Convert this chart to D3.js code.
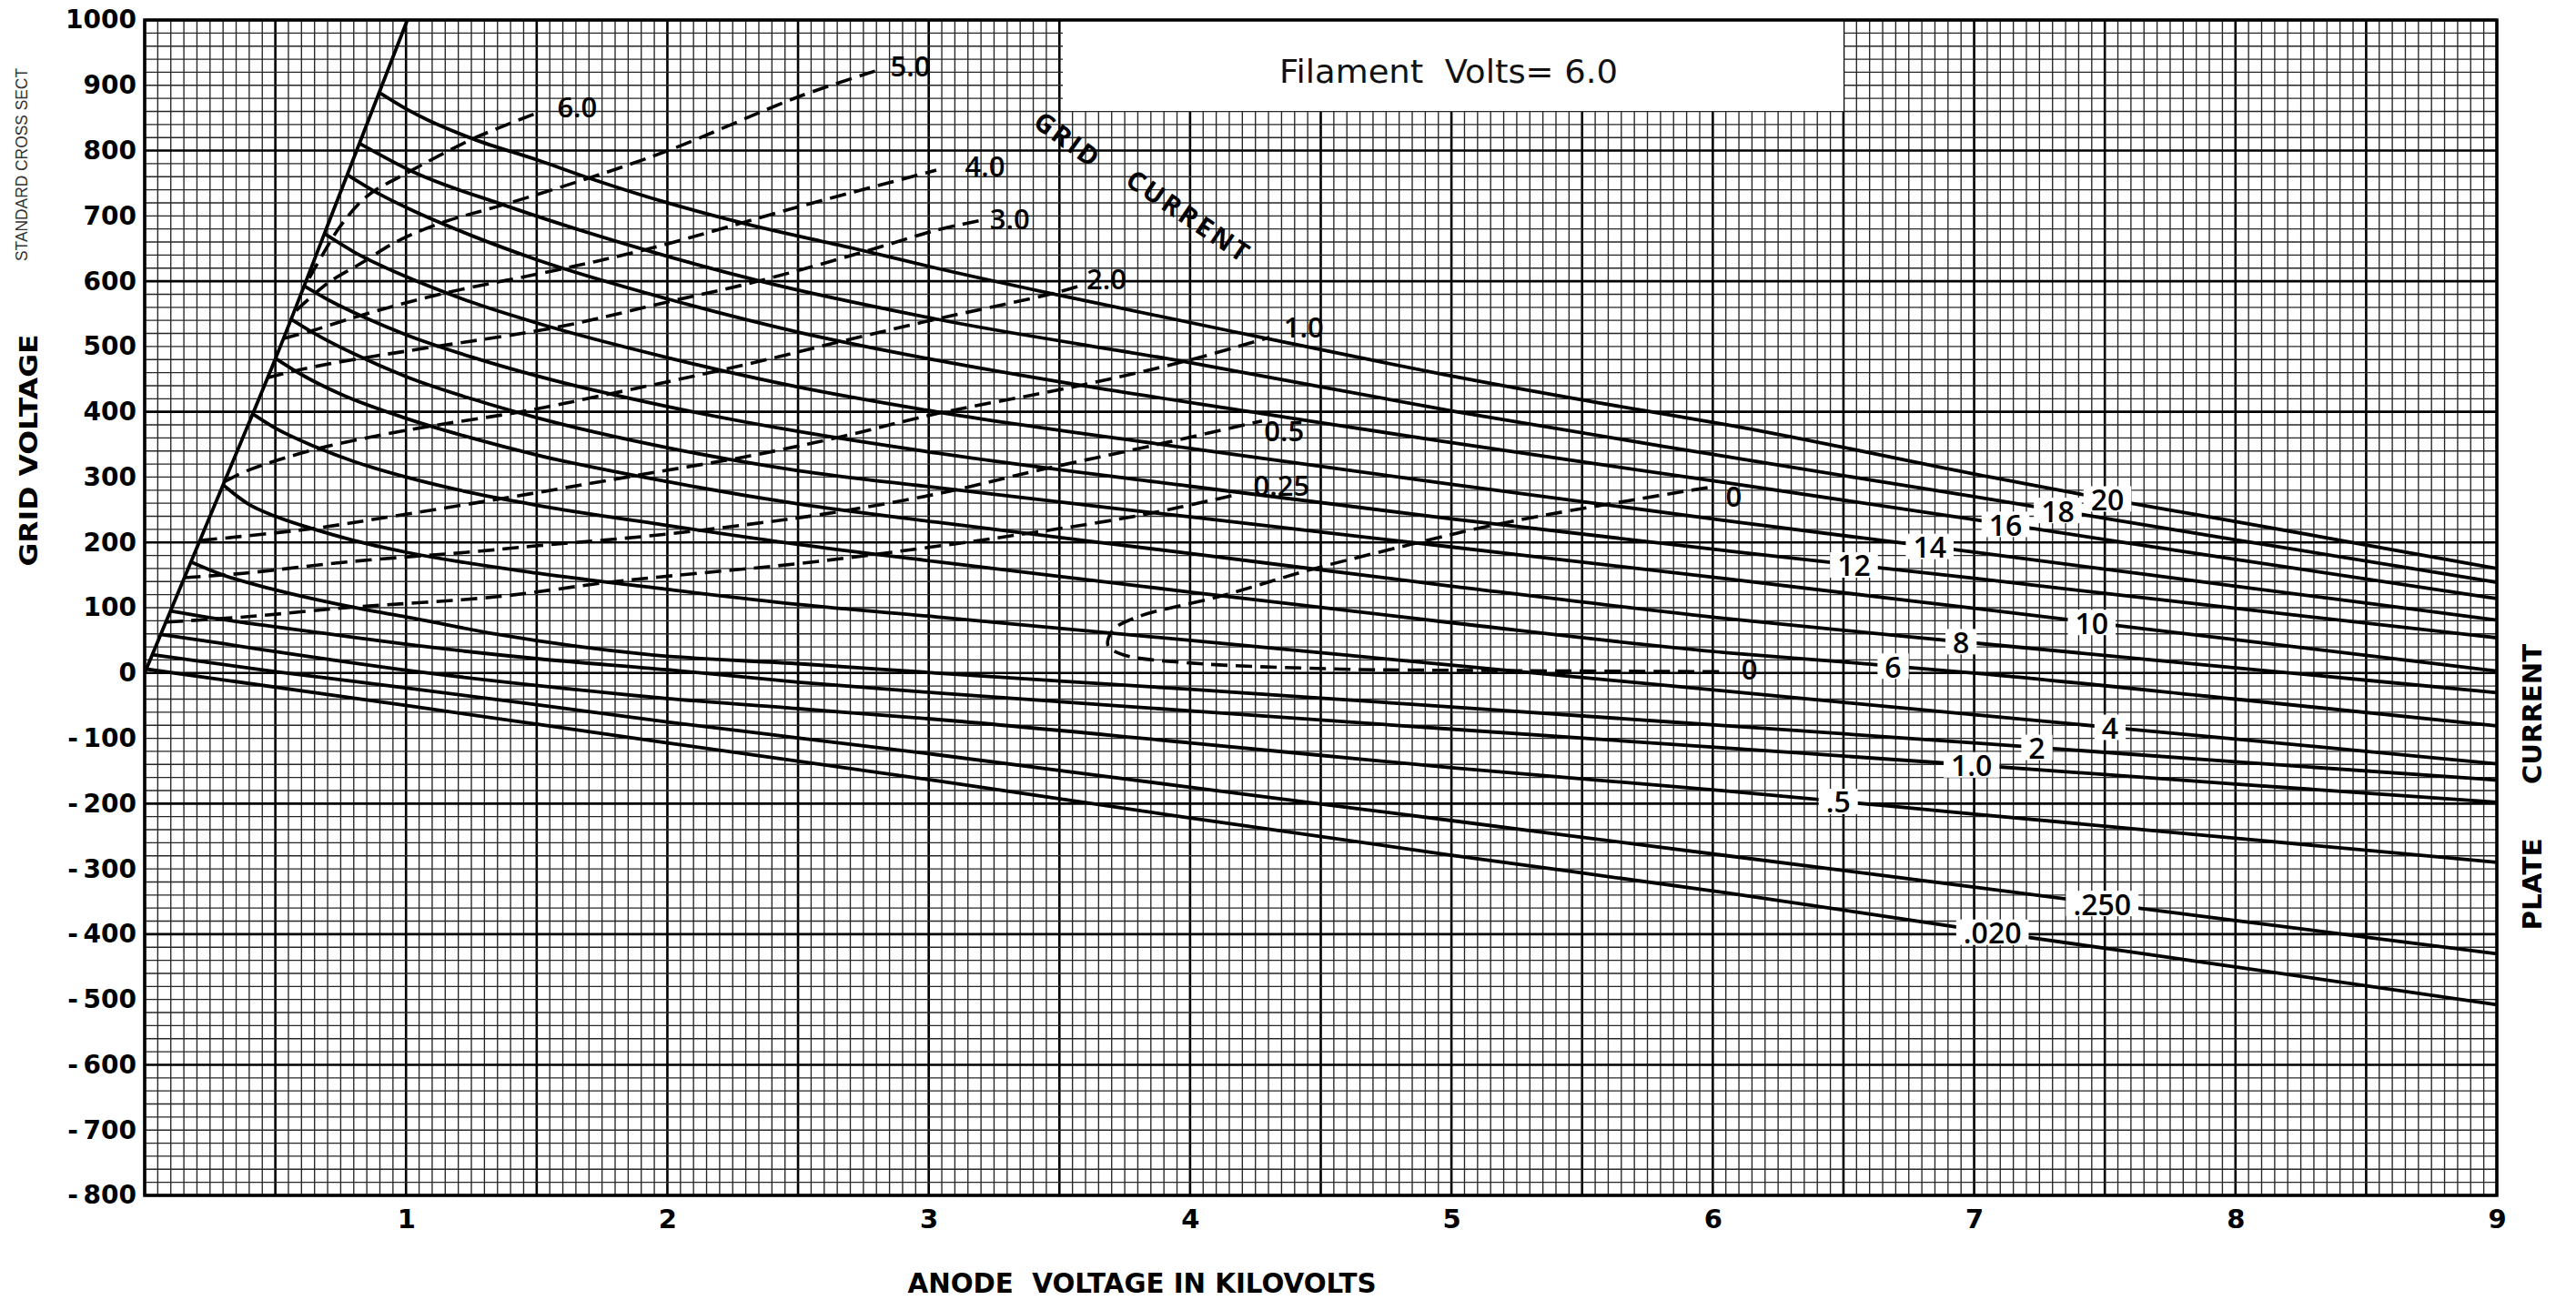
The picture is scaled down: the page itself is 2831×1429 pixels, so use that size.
<!DOCTYPE html>
<html>
<head>
<meta charset="utf-8">
<script src="https://cdn.jsdelivr.net/npm/d3@7"></script>
<style>
  html, body { margin: 0; padding: 0; background: #fff; }
  svg { display: block; }
  text { white-space: pre; }
</style>
</head>
<body>
<script>
// ---------------- DATA ----------------
const xTickValues = [1, 2, 3, 4, 5, 6, 7, 8, 9];
const yTickValues = [1000, 900, 800, 700, 600, 500, 400, 300, 200, 100, 0, -100, -200, -300, -400, -500, -600, -700, -800];

// Boundary (limit) line, [kV, V]
const boundary = [[0, 0], [0.3, 288], [0.5, 481], [0.75, 737], [1.005, 1000]];

// Plate-current curves (solid), [kV, grid V]
const pc20 = [[0.897,889],[1.0,864],[1.082,847],[1.256,818],[1.507,785],[1.70,758],[2.009,719],[2.318,686],[2.705,651],[3.029,620],[3.493,579],[4.285,513],[4.961,458],[5.734,402],[6.058,380],[7.024,303],[7.584,261],[7.874,241],[8.5,196],[9.0,160]];
const pc18 = [[0.822,811],[1.024,768],[1.372,717],[1.932,646],[2.357,600],[3.029,542],[3.976,477],[5.019,400],[6.058,331],[7.0,270],[8.0,204],[9.0,139]];
const pc16 = [[0.775,763],[0.9,733],[1.0,713],[1.25,670],[1.5,633],[2.0,573],[2.5,522],[3.029,479],[3.589,440],[4.265,398],[4.961,355],[6.058,291],[7.0,235],[8.0,174],[9.0,114]];
const pc14 = [[0.687,673],[0.8,645],[1.0,607],[1.25,568],[1.5,536],[2.0,483],[2.5,438],[3.029,400],[4.0,344],[5.0,289],[6.058,233],[7.0,185],[8.0,133],[9.0,81]];
const pc12 = [[0.609,593],[0.7,572],[0.85,543],[1.0,518],[1.25,484],[1.5,455],[2.0,408],[2.5,370],[3.029,337],[4.0,286],[5.0,236],[6.058,187],[7.0,145],[8.0,99],[9.0,54]];
const pc10 = [[0.56,542],[0.65,520],[0.8,489],[1.0,454],[1.25,420],[1.5,391],[2.0,345],[2.5,310],[3.029,284],[4.0,239],[5.0,193],[6.058,144],[7.0,99],[8.0,51],[9.0,3]];
const pc8  = [[0.5,482],[0.6,457],[0.75,427],[1.0,390],[1.25,360],[1.5,334],[2.0,293],[2.5,259],[3.029,231],[4.0,183],[5.0,133],[6.058,83],[7.0,46],[8.0,8],[9.0,-30]];
const pc6  = [[0.413,397],[0.5,375],[0.65,347],[0.8,324],[1.0,300],[1.25,276],[1.5,257],[2.0,226],[2.5,197],[3.029,170.5],[4.0,124],[5.0,77],[6.058,31],[6.5,17],[7.0,0],[8.0,-40],[9.0,-81]];
const pc4  = [[0.3,288],[0.4,258],[0.5,240],[0.65,220],[0.8,203],[1.0,185],[1.5,153],[2.0,128],[2.5,105],[3.029,86],[4.0,50],[5.0,12],[6.058,-28],[7.0,-64],[8.0,-101],[9.0,-139]];
const pc2  = [[0.177,170],[0.3,150],[0.483,129],[0.65,113],[0.831,98],[1.0,86],[1.352,59],[1.932,28],[2.512,14],[3.029,0],[4.0,-25],[5.0,-52],[6.058,-81],[7.0,-107],[8.0,-136],[9.0,-164]];
const pc1  = [[0.099,95],[0.2,88],[0.4,76],[0.7,60],[1.0,44],[1.5,22],[2.0,5],[2.5,-14],[3.029,-30.5],[4.0,-58],[5.0,-86],[6.058,-115],[7.0,-141],[8.0,-170],[9.0,-198]];
const pc05 = [[0.061,59],[0.3,45],[0.58,28],[1.005,4],[1.546,-21],[2.0,-39],[2.512,-55],[3.029,-71],[4.0,-107],[5.0,-145],[6.058,-181],[7.0,-216],[8.0,-253],[9.0,-290]];
const pc025= [[0.029,28],[0.502,2],[1.005,-23],[1.507,-49],[2.0,-75],[2.512,-100],[3.029,-125],[4.0,-175],[5.0,-226],[6.058,-280],[7.0,-328],[8.0,-379],[9.0,-430]];
const pc002= [[0.006,6],[1.005,-50],[2.0,-107],[3.029,-165],[4.0,-222],[5.0,-279],[6.058,-337],[7.0,-393],[8.0,-450],[9.0,-508]];

const plateCurves  = [pc20, pc18, pc16, pc14, pc12, pc10, pc8, pc6, pc4, pc2, pc1, pc05, pc025, pc002];
const plateLabels  = ["20", "18", "16", "14", "12", "10", "8", "6", "4", "2", "1.0", ".5", ".250", ".020"];
const plateLabelKV = [7.51, 7.32, 7.12, 6.83, 6.54, 7.45, 6.95, 6.69, 7.52, 7.24, 6.99, 6.48, 7.49, 7.07];

// Grid-current curves (dashed), [kV, grid V]
const gc60 = [[0.63,605],[0.68,640],[0.75,685],[0.85,730],[1.0,765],[1.256,818],[1.49,856]];
const gc50 = [[0.58,555],[0.7,597],[0.83,628],[0.966,661],[1.14,690],[1.372,717],[1.70,758],[2.009,801],[2.512,884],[2.82,925]];
const gc40 = [[0.53,512],[0.647,525],[0.831,548],[1.14,581],[1.575,617],[1.932,650],[2.512,715],[3.029,770]];
const gc30 = [[0.47,452],[0.6,465],[0.8,480],[1.082,498],[1.584,530],[2.009,569],[2.347,600],[2.743,644],[3.029,678],[3.22,695]];
const gc20 = [[0.305,293],[0.406,312],[0.667,344],[1.005,372],[1.468,402],[1.739,424],[2.241,467],[2.647,506],[3.029,542],[3.473,581],[3.57,592]];
const gc10 = [[0.215,203],[0.638,221],[0.966,241],[1.468,274],[1.874,302],[2.309,332],[2.666,362],[3.029,397],[3.551,438],[3.976,477],[4.304,514]];
const gc05 = [[0.152,146],[0.386,153],[0.773,170],[1.236,185],[1.507,195],[1.932,210],[2.318,228],[2.608,244],[3.029,274],[3.415,310],[3.898,352],[4.275,386]];
const gc025= [[0.085,78],[0.386,86],[0.773,100],[1.352,117],[1.777,139],[2.125,153],[2.512,168],[3.029,194],[3.415,216],[3.802,241],[4.188,274]];
const gc0  = [[5.98,284],[5.65,262],[5.347,241],[5.096,221],[4.845,197],[4.459,158],[4.111,117],[3.8,86],[3.705,66],[3.686,42],[3.744,28],[3.995,15.5],[4.575,6],[5.038,4],[6.05,2]];

const gridCurves = [gc60, gc50, gc40, gc30, gc20, gc10, gc05, gc025, gc0];
const gridLabels   = ["6.0", "5.0", "4.0", "3.0", "2.0", "1.0", "0.5", "0.25", "0", "0"];
const gridLabelKV  = [1.655, 2.93, 3.215, 3.31, 3.68, 4.435, 4.36, 4.35, 6.08, 6.14];
const gridLabelV   = [867, 930, 777, 696, 604, 531, 372, 288, 271, 6];

// ---------------- DRAWING ----------------
const W = 2831, H = 1429;
const svg = d3.select("body").append("svg").attr("width", W).attr("height", H);

const x = d3.scaleLinear().domain([0, 9]).range([159, 2744]);
const y = d3.scaleLinear().domain([-800, 1000]).range([1314, 22]);

// Grid
const grid = svg.append("g");
d3.range(0, 181).forEach(i => {
  const major = i % 10 === 0;
  grid.append("line")
    .attr("x1", x(i / 20)).attr("x2", x(i / 20))
    .attr("y1", y(1000)).attr("y2", y(-800))
    .attr("stroke", major ? "#000" : "#262626")
    .attr("stroke-width", major ? 2.6 : 1.35);
});
d3.range(0, 91).forEach(i => {
  const v = -800 + i * 20;
  const major = (v % 200) === 0;
  grid.append("line")
    .attr("x1", x(0)).attr("x2", x(9))
    .attr("y1", y(v)).attr("y2", y(v))
    .attr("stroke", major ? "#000" : "#262626")
    .attr("stroke-width", major ? 2.6 : 1.35);
});

// Title box
svg.append("rect")
  .attr("x", 1168).attr("y", y(1000)).attr("width", 858).attr("height", 100)
  .attr("fill", "#fff");
svg.append("text")
  .attr("x", 1592).attr("y", 78)
  .attr("text-anchor", "middle").attr("dominant-baseline", "central")
  .attr("font-family", "DejaVu Sans").attr("font-size", 36)
  .attr("textLength", 372).attr("lengthAdjust", "spacingAndGlyphs")
  .attr("fill", "#111")
  .text("Filament  Volts= 6.0");

// Border
svg.append("rect")
  .attr("x", x(0)).attr("y", y(1000))
  .attr("width", x(9) - x(0)).attr("height", y(-800) - y(1000))
  .attr("fill", "none").attr("stroke", "#000").attr("stroke-width", 3.5);

// Axes
const yAxis = d3.axisLeft(y).tickValues(yTickValues).tickSize(0).tickPadding(9)
  .tickFormat(d => d < 0 ? "-\u2009" + (-d) : String(d));
const gy = svg.append("g").attr("transform", `translate(${x(0)},0)`).call(yAxis);
gy.select(".domain").remove();
gy.selectAll("text").attr("font-family", "DejaVu Sans").attr("font-weight", "bold")
  .attr("font-size", 28).attr("fill", "#000");

const xAxis = d3.axisBottom(x).tickValues(xTickValues).tickSize(0).tickPadding(15)
  .tickFormat(d => String(d));
const gx = svg.append("g").attr("transform", `translate(0,${y(-800)})`).call(xAxis);
gx.select(".domain").remove();
gx.selectAll("text").attr("font-family", "DejaVu Sans").attr("font-weight", "bold")
  .attr("font-size", 29).attr("fill", "#000");

// Clip for curves
svg.append("clipPath").attr("id", "plotclip").append("rect")
  .attr("x", x(0)).attr("y", y(1000)).attr("width", x(9) - x(0)).attr("height", y(-800) - y(1000));

const curvesG = svg.append("g").attr("clip-path", "url(#plotclip)");

const solidLine = d3.line().x(d => x(d[0])).y(d => y(d[1])).curve(d3.curveMonotoneX);
const dashLine = d3.line().x(d => x(d[0])).y(d => y(d[1])).curve(d3.curveCatmullRom.alpha(0.5));

// boundary
curvesG.append("path").attr("d", solidLine(boundary))
  .attr("fill", "none").attr("stroke", "#000").attr("stroke-width", 3.8);

// dashed grid-current curves
gridCurves.forEach(c => {
  curvesG.append("path").attr("d", dashLine(c))
    .attr("fill", "none").attr("stroke", "#000").attr("stroke-width", 3.6)
    .attr("stroke-dasharray", "18,9");
});

// solid plate-current curves
plateCurves.forEach(c => {
  curvesG.append("path").attr("d", solidLine(c))
    .attr("fill", "none").attr("stroke", "#000").attr("stroke-width", 3.8)
    .attr("stroke-linejoin", "round");
});

function valAt(pts, k) {
  for (let i = 0; i < pts.length - 1; i++) {
    const a = pts[i], b = pts[i + 1];
    if (k >= a[0] && k <= b[0]) return a[1] + (b[1] - a[1]) * (k - a[0]) / (b[0] - a[0]);
  }
  return pts[pts.length - 1][1];
}

// plate-current labels with white gap
const labG = svg.append("g");
plateCurves.forEach((c, i) => {
  const g = labG.append("g");
  const cx = x(plateLabelKV[i]), cy = y(valAt(c, plateLabelKV[i]));
  const t = g.append("text")
    .attr("x", cx).attr("y", cy)
    .attr("text-anchor", "middle").attr("dominant-baseline", "central")
    .attr("font-family", "Open Sans").attr("font-weight", 600).attr("font-size", 32)
    .attr("fill", "#000").text(plateLabels[i]);
  const bb = t.node().getBBox();
  g.insert("rect", "text")
    .attr("x", bb.x - 8).attr("y", cy - 14).attr("width", bb.width + 16).attr("height", 28)
    .attr("fill", "#fff");
});

// grid-current labels
gridLabels.forEach((s, i) => {
  labG.append("text")
    .attr("x", x(gridLabelKV[i])).attr("y", y(gridLabelV[i]))
    .attr("text-anchor", "middle").attr("dominant-baseline", "central")
    .attr("font-family", "Open Sans").attr("font-weight", 600).attr("font-size", 31)
    .attr("fill", "#000").text(s);
});

// "GRID CURRENT" annotation
svg.append("text")
  .attr("transform", "translate(1173,152) rotate(36)")
  .attr("text-anchor", "middle").attr("dominant-baseline", "central")
  .attr("font-family", "Open Sans").attr("font-weight", 700).attr("font-size", 29)
  .attr("textLength", 80).attr("lengthAdjust", "spacing")
  .text("GRID");
svg.append("text")
  .attr("transform", "translate(1306,236) rotate(34)")
  .attr("text-anchor", "middle").attr("dominant-baseline", "central")
  .attr("font-family", "Open Sans").attr("font-weight", 700).attr("font-size", 29)
  .attr("textLength", 155).attr("lengthAdjust", "spacing")
  .text("CURRENT");

// Axis titles
svg.append("text")
  .attr("x", 1255).attr("y", 1410)
  .attr("text-anchor", "middle").attr("dominant-baseline", "central")
  .attr("font-family", "DejaVu Sans").attr("font-weight", "bold").attr("font-size", 31)
  .attr("textLength", 515).attr("lengthAdjust", "spacingAndGlyphs")
  .text("ANODE  VOLTAGE IN KILOVOLTS");

svg.append("text")
  .attr("transform", "translate(32,495) rotate(-90)")
  .attr("text-anchor", "middle").attr("dominant-baseline", "central")
  .attr("font-family", "DejaVu Sans").attr("font-weight", "bold").attr("font-size", 26)
  .attr("textLength", 255).attr("lengthAdjust", "spacingAndGlyphs")
  .text("GRID VOLTAGE");

svg.append("text")
  .attr("transform", "translate(24,181) rotate(-90)")
  .attr("text-anchor", "middle").attr("dominant-baseline", "central")
  .attr("font-family", "Liberation Sans").attr("font-size", 18).attr("fill", "#333")
  .attr("textLength", 212).attr("lengthAdjust", "spacingAndGlyphs")
  .text("STANDARD CROSS SECT");

svg.append("text")
  .attr("transform", "translate(2783,785) rotate(-90)")
  .attr("text-anchor", "middle").attr("dominant-baseline", "central")
  .attr("font-family", "DejaVu Sans").attr("font-weight", "bold").attr("font-size", 29)
  .attr("textLength", 154).attr("lengthAdjust", "spacingAndGlyphs")
  .text("CURRENT");
svg.append("text")
  .attr("transform", "translate(2783,972) rotate(-90)")
  .attr("text-anchor", "middle").attr("dominant-baseline", "central")
  .attr("font-family", "DejaVu Sans").attr("font-weight", "bold").attr("font-size", 29)
  .attr("textLength", 101).attr("lengthAdjust", "spacingAndGlyphs")
  .text("PLATE");
</script>
</body>
</html>
